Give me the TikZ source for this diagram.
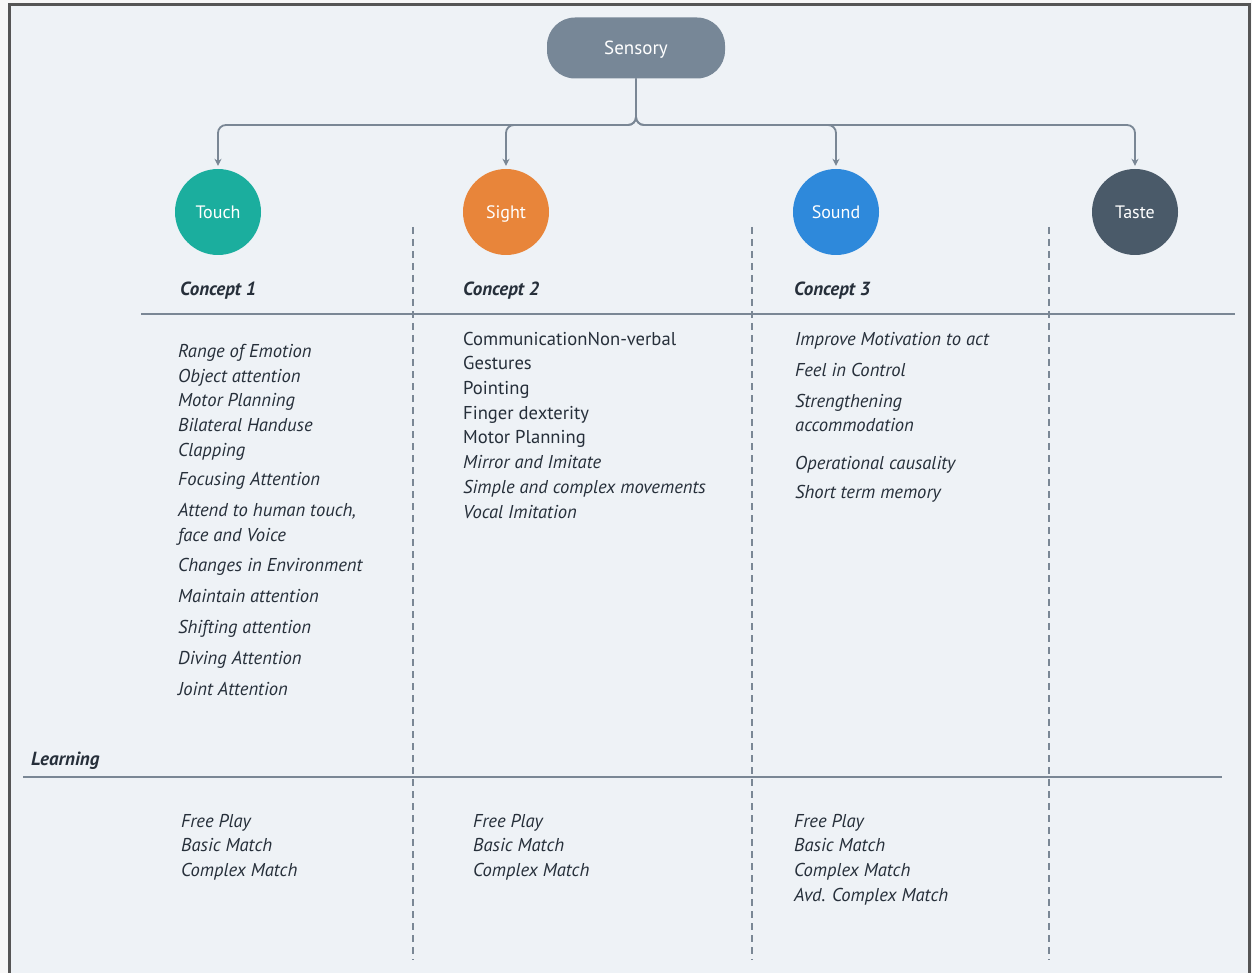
\documentclass[tikz,border=0pt]{standalone}
\usepackage{fontspec}
\setmainfont{PT Sans}
\usetikzlibrary{arrows.meta,calc}
\definecolor{pagebg}{HTML}{F7F7F7}
\definecolor{panelbg}{HTML}{EEF2F6}
\definecolor{frame}{HTML}{555555}
\definecolor{slate}{HTML}{778797}
\definecolor{rule}{HTML}{7A8795}
\definecolor{ink}{HTML}{262F3A}
\definecolor{touchc}{HTML}{1BAE9E}
\definecolor{sightc}{HTML}{E8853A}
\definecolor{soundc}{HTML}{2E89DB}
\definecolor{tastec}{HTML}{4A5A69}
\begin{document}
\begin{tikzpicture}[x=1pt,y=-1pt,
  rootbox/.style={draw=none,fill=slate,rounded corners=28pt,minimum width=178pt,minimum height=61pt,
    text=white,text height=17pt,text depth=4pt,font=\fontsize{19}{21}\selectfont},
  sense/.style={circle,draw=none,fill=#1,minimum size=86pt,inner sep=0pt,text=white,
    text height=17pt,text depth=4pt,font=\fontsize{18}{20}\selectfont},
  conn/.style={draw=rule,line width=1.8pt,rounded corners=8pt,-{Stealth[length=7pt,width=7pt]}},
  hrule/.style={draw=rule,line width=2pt},
  vdash/.style={draw=rule,line width=1.5pt,dash pattern=on 7pt off 5pt},
  head/.style={anchor=base west,text=ink,inner sep=0pt,font=\fontsize{19}{21}\selectfont\bfseries\itshape},
  item/.style={anchor=base west,text=ink,inner sep=0pt,font=\fontsize{18.6}{21}\selectfont\itshape},
  itemup/.style={anchor=base west,text=ink,inner sep=0pt,font=\fontsize{18.6}{21}\selectfont},
]
\useasboundingbox (0,0) rectangle (1252,973);
% page and framed panel
\fill[pagebg] (0,0) rectangle (1252,973);
\fill[panelbg] (9,5) rectangle (1249,973);
\draw[frame,line width=3pt] (9,980) -- (9,5) -- (1249,5) -- (1249,980);

% root and the four senses
\node[rootbox] (sensory) at (636,48) {Sensory};
\node[sense=touchc] (touch) at (218,212) {Touch};
\node[sense=sightc] (sight) at (506,212) {Sight};
\node[sense=soundc] (sound) at (836,212) {Sound};
\node[sense=tastec] (taste) at (1135,212) {Taste};

\coordinate (bus) at (636,125);
\foreach \s in {touch,sight,sound,taste}{
  \draw[conn] (sensory.south) |- (bus -| \s.north) -- ($(\s.north)+(0,-3)$);
}

% grid rules
\coordinate (r1w) at (141,314); \coordinate (r1e) at (1235,314);
\coordinate (r2w) at (23,777);  \coordinate (r2e) at (1222,777);
\draw[hrule] (r1w) -- (r1e);
\draw[hrule] (r2w) -- (r2e);
\foreach \x in {413,752,1049}{
  \draw[vdash] (\x,227) -- (\x,960);
}

% headings
\node[head] (c1) at (180,296) {Concept 1};
\node[head] (c2) at (463,296) {Concept 2};
\node[head] (c3) at (794,296) {Concept 3};
\node[head] (learn) at (31,765) {Learning};

% concept 1 items
\node[item] (a1) at (178,357) {Range of Emotion};
\node[item] (a2) at (178,382) {Object attention};
\node[item] (a3) at (178,406) {Motor Planning};
\node[item] (a4) at (178,431) {Bilateral Handuse};
\node[item] (a5) at (178,456) {Clapping};
\node[item] (a6) at (178,485) {Focusing Attention};
\node[item] (a7) at (178,516) {Attend to human touch,};
\node[item] (a8) at (178,541) {face and Voice};
\node[item] (a9) at (178,571) {Changes in Environment};
\node[item] (a10) at (178,602) {Maintain attention};
\node[item] (a11) at (178,633) {Shifting attention};
\node[item] (a12) at (178,664) {Diving Attention};
\node[item] (a13) at (178,695) {Joint Attention};

% concept 2 items
\node[itemup] (b1) at (463,345) {CommunicationNon-verbal};
\node[itemup] (b2) at (463,369) {Gestures};
\node[itemup] (b3) at (463,394) {Pointing};
\node[itemup] (b4) at (463,419) {Finger dexterity};
\node[itemup] (b5) at (463,443) {Motor Planning};
\node[item] (b6) at (463,468) {Mirror and Imitate};
\node[item] (b7) at (463,493) {Simple and complex movements};
\node[item] (b8) at (463,518) {Vocal Imitation};

% concept 3 items
\node[item] (d1) at (795,345) {Improve Motivation to act};
\node[item] (d2) at (795,376) {Feel in Control};
\node[item] (d3) at (795,407) {Strengthening};
\node[item] (d4) at (795,431) {accommodation};
\node[item] (d5) at (795,469) {Operational causality};
\node[item] (d6) at (795,498) {Short term memory};

% learning rows
\node[item] (l11) at (181,827) {Free Play};
\node[item] (l12) at (181,851) {Basic Match};
\node[item] (l13) at (181,876) {Complex Match};
\node[item] (l21) at (473,827) {Free Play};
\node[item] (l22) at (473,851) {Basic Match};
\node[item] (l23) at (473,876) {Complex Match};
\node[item] (l31) at (794,827) {Free Play};
\node[item] (l32) at (794,851) {Basic Match};
\node[item] (l33) at (794,876) {Complex Match};
\node[item] (l34) at (794,901) {Avd. Complex Match};
\end{tikzpicture}
\end{document}
